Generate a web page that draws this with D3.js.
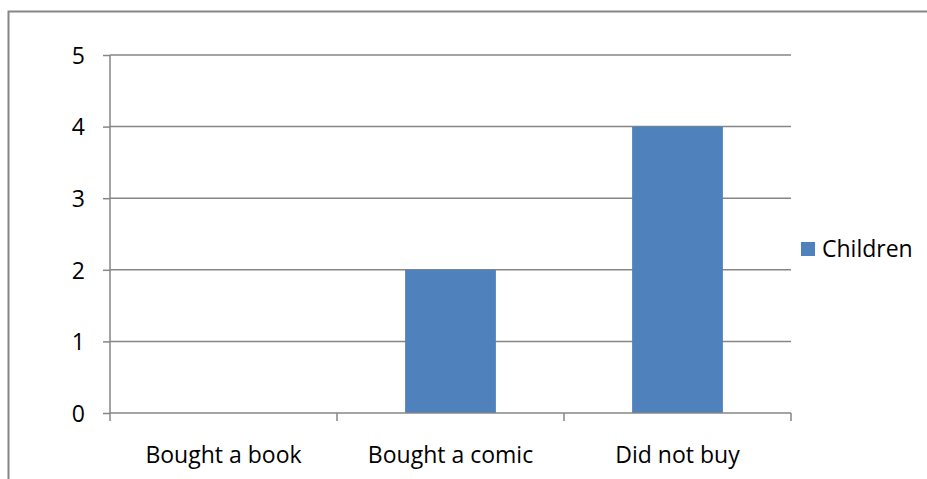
<!DOCTYPE html>
<html><head><meta charset="utf-8">
<script src="https://cdn.jsdelivr.net/npm/d3@7"></script>
<style>body{margin:0;background:#fff}svg{display:block}text{font-family:"Open Sans",Lato,sans-serif;fill:#000}</style>
</head><body><svg id="c" width="927" height="479"></svg>
<script>
const categories = ["Bought a book", "Bought a comic", "Did not buy"];
const children = [0, 2, 4];
const yTicks = [0, 1, 2, 3, 4, 5];
const seriesName = "Children";

const svg = d3.select("#c");
const grey = "#868686", blue = "#4F81BD";
const L = 110, R = 791, T = 55, B = 413;
const fs = "23px";

// outer chart border (extends beyond window on right and bottom)
svg.append("rect").attr("x", 8.5).attr("y", 11.5).attr("width", 1000).attr("height", 600)
  .attr("fill", "none").attr("stroke", grey).attr("stroke-width", 2);

const x = d3.scaleBand().domain(categories).range([L, R]);
const y = d3.scaleLinear().domain([0, 5]).range([B, T]);

// gridlines
svg.append("g").selectAll("line").data(yTicks.filter(d => d > 0)).join("line")
  .attr("x1", L).attr("x2", R).attr("y1", d => y(d)).attr("y2", d => y(d))
  .attr("stroke", grey).attr("stroke-width", 1.5);

// bars
const bw = x.bandwidth() * 0.4;
svg.append("g").selectAll("rect").data(categories).join("rect")
  .attr("x", d => x(d) + (x.bandwidth() - bw) / 2)
  .attr("width", bw)
  .attr("y", (d, i) => y(children[i]))
  .attr("height", (d, i) => B - y(children[i]))
  .attr("fill", blue);

// y axis
const ya = svg.append("g").attr("transform", `translate(${L},0)`)
  .call(d3.axisLeft(y).tickValues(yTicks).tickSize(7).tickPadding(25).tickFormat(d3.format("d")));
ya.select(".domain").attr("stroke", grey).attr("stroke-width", 1.5).attr("d", `M0,${T}V${B}`);
ya.selectAll(".tick line").attr("stroke", grey).attr("stroke-width", 1.5);
ya.selectAll("text").style("font-size", fs).attr("x", -25).attr("dy", "0.36em");

// x axis
const xa = svg.append("g").attr("transform", `translate(0,${B})`)
  .call(d3.axisBottom(x).tickSize(0));
xa.select(".domain").attr("stroke", grey).attr("stroke-width", 1.5).attr("d", `M${L},0H${R}`);
xa.selectAll(".tick text").style("font-size", fs).attr("y", 50).attr("dy", 0);
// category boundary ticks
svg.append("g").selectAll("line").data(d3.range(categories.length + 1)).join("line")
  .attr("x1", i => L + i * x.step()).attr("x2", i => L + i * x.step())
  .attr("y1", B).attr("y2", B + 8).attr("stroke", grey).attr("stroke-width", 1.5);

// legend
const lg = svg.append("g").attr("transform", "translate(801,242)");
lg.append("rect").attr("width", 14).attr("height", 14).attr("fill", blue);
lg.append("text").attr("x", 21).attr("y", 15).style("font-size", fs).text(seriesName);
</script></body></html>
